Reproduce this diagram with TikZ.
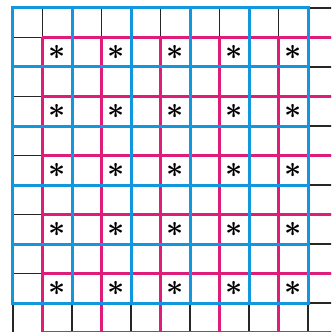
\documentclass[tikz,border=0pt]{standalone}
\usepackage{amsmath}
\begin{document}
\begin{tikzpicture}[x=0.5cm, y=-0.5cm]
    % Colours of the two coarse grids
    \definecolor{gridblue}{RGB}{18, 150, 222}
    \definecolor{gridpink}{RGB}{222, 28, 122}

    \tikzset{
        fineline/.style={black!85, line width=0.6pt},
        pinkline/.style={gridpink, line width=1.3pt},
        blueline/.style={gridblue, line width=1.45pt, line cap=rect},
        star/.style={inner sep=0pt, font=\Large}
    }

    % Frame of the picture, everything is cut to it
    \useasboundingbox (-0.44,-0.27) rectangle (10.78,10.98);
    \clip (-0.44,-0.27) rectangle (10.78,10.98);

    % Fine black grid
    \foreach \i in {0,...,11} {
        \draw[fineline] (\i,0) -- (\i,11.5);
        \draw[fineline] (0,\i) -- (11.5,\i);
    }

    % Pink grid, shifted by one cell
    \foreach \i in {1,3,...,11} {
        \draw[pinkline] (\i,1) -- (\i,11.5);
        \draw[pinkline] (1,\i) -- (11.5,\i);
    }

    % Blue grid on top
    \foreach \i in {0,2,...,10} {
        \draw[blueline] (\i,0) -- (\i,10);
        \draw[blueline] (0,\i) -- (10,\i);
    }

    % Asterisks in the shared cells
    \foreach \i in {1,3,...,9} {
        \foreach \j in {1,3,...,9} {
            \node[star] (s\i\j) at (\i+0.5,\j+0.5) {$\boldsymbol{\ast}$};
        }
    }
\end{tikzpicture}
\end{document}
